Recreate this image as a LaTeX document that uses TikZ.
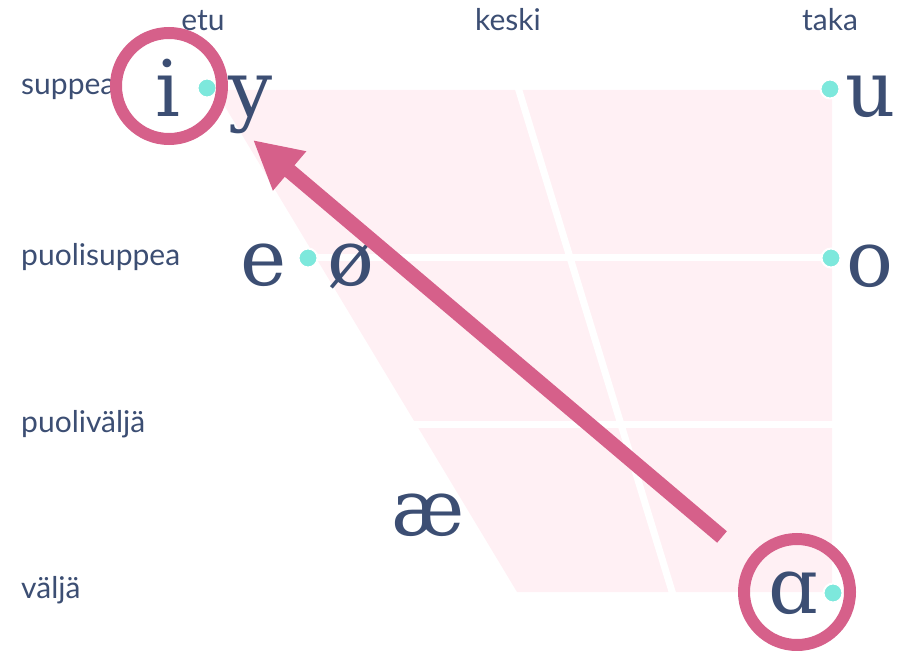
\documentclass[tikz,border=0pt]{standalone}
\usepackage{fontspec}
\setsansfont{Lato}
\newfontfamily\vowelfont{DejaVu Serif}
\usetikzlibrary{arrows.meta}
\definecolor{ink}{RGB}{60,78,115}
\definecolor{chartpink}{RGB}{255,240,244}
\definecolor{hot}{RGB}{214,96,138}
\definecolor{teal}{RGB}{125,232,220}
\tikzset{
  axislabel/.style={font=\sffamily\fontsize{30}{30}\selectfont, text=ink, inner sep=0pt},
  vowel/.style={font=\vowelfont\fontsize{78}{78}\selectfont, text=ink, inner sep=0pt, anchor=base},
  vdot/.style={circle, fill=teal, draw=white, line width=2pt, minimum size=19pt, inner sep=0pt},
  ring/.style={circle, draw=hot, line width=12pt, minimum size=106pt, inner sep=0pt},
  divider/.style={draw=white, line width=7pt},
}
\begin{document}
\begin{tikzpicture}[x=1pt,y=-1pt]
\useasboundingbox (0,0) rectangle (912,650);
% chart background
\fill[chartpink] (215,90) -- (832,90) -- (832,592) -- (517,592) -- cycle;
\draw[divider] (150,257) -- (840,257);
\draw[divider] (150,424) -- (840,424);
\draw[divider] (517,84) -- (674,598);
% column headings
\node[axislabel, anchor=base] (hetu) at (203,31) {etu};
\node[axislabel, anchor=base] (hkeski) at (508,31) {keski};
\node[axislabel, anchor=base] (htaka) at (830,31) {taka};
% row headings
\node[axislabel, anchor=base west] (rsuppea) at (21,95) {suppea};
\node[axislabel, anchor=base west] (rpsuppea) at (21,265) {puolisuppea};
\node[axislabel, anchor=base west] (rpvalja) at (21,432) {puoliväljä};
\node[axislabel, anchor=base west] (rvalja) at (21,598) {väljä};
% dots
\node[vdot] (d1) at (207,88) {};
\node[vdot] (d2) at (830,89) {};
\node[vdot] (d3) at (308,258) {};
\node[vdot] (d4) at (831,258) {};
\node[vdot] (d5) at (833,593) {};
% vowels
\node[vowel] (vi) at (168,117) {i};
\node[vowel] (vy) at (251,117) {y};
\node[vowel] (vu) at (871,117) {u};
\node[vowel] (ve) at (264,285) {e};
\node[vowel] (voe) at (351,285) {ø};
\node[vowel] (vo) at (870,286) {o};
\node[vowel] (vae) at (428,535) {æ};
\node[vowel] (va) at (793,613) {ɑ};
% rings
\node[ring] (ci) at (169,86) {};
\node[ring] (ca) at (797,592) {};
% arrow
\coordinate (atail) at (722,537);
\coordinate (ahead) at (253,140);
\draw[hot, line width=15pt, -{Triangle[length=48pt,width=48pt]}] (atail) -- (ahead);
\end{tikzpicture}
\end{document}
